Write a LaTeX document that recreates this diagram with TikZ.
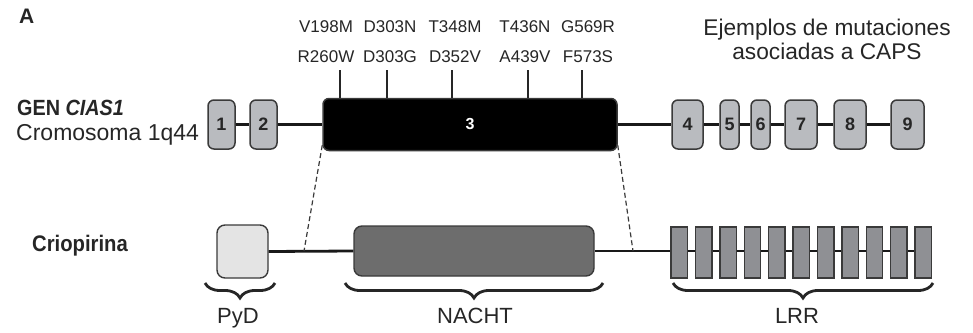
\documentclass[tikz,border=0pt]{standalone}
\usepackage{fontspec}
\setmainfont{Liberation Sans}
\newfontfamily\narrowfont[FakeStretch=0.9]{Liberation Sans}
\usetikzlibrary{decorations.pathreplacing}

\definecolor{exongray}{HTML}{B9BBBF}
\definecolor{edgegray}{HTML}{3A3A3A}
\definecolor{pydgray}{HTML}{E4E4E4}
\definecolor{nachtgray}{HTML}{6D6D6D}
\definecolor{lrrgray}{HTML}{8F9094}
\definecolor{inkgray}{HTML}{262626}

\tikzset{
  exon/.style={draw=edgegray,line width=1.5pt,fill=exongray,rounded corners=6pt,
    minimum height=49pt,inner sep=0pt,text=inkgray,
    font=\fontsize{18}{18}\selectfont\bfseries},
  domainbox/.style={draw=edgegray,line width=1.4pt,rounded corners=8pt,inner sep=0pt},
  lrrbox/.style={draw=edgegray,line width=1.4pt,fill=lrrgray,
    minimum width=16.5pt,minimum height=51pt,inner sep=0pt},
  mut/.style={anchor=base,inner sep=0pt,text=inkgray,font=\fontsize{17}{17}\selectfont},
  backbone/.style={line width=2.8pt,black!90},
  cut/.style={line width=1.2pt,edgegray,dash pattern=on 5pt off 3pt},
  bracket/.style={decorate,decoration={brace,amplitude=15pt,mirror},line width=2.8pt,inkgray},
  domlabel/.style={anchor=base,inner sep=0pt,text=inkgray,font=\fontsize{22}{22}\selectfont},
}

\begin{document}
\begin{tikzpicture}[x=1pt,y=-1pt]
  \useasboundingbox (0,0) rectangle (973,332);

  % left titles
  \node[anchor=north west,inner sep=0pt,text=inkgray,font=\fontsize{21}{21}\selectfont\bfseries] (tagA) at (19,9) {A};
  \node[anchor=base west,inner sep=0pt,text=inkgray,font=\fontsize{22}{22}\selectfont\narrowfont\bfseries] (gen) at (17,115) {GEN \textit{CIAS1}};
  \node[anchor=base west,inner sep=0pt,text=inkgray,font=\fontsize{23}{23}\selectfont] (chrom) at (16,140) {Cromosoma 1q44};
  \node[anchor=base west,inner sep=0pt,text=inkgray,font=\fontsize{22.5}{22.5}\selectfont\narrowfont\bfseries] (prot) at (32,251) {Criopirina};

  % exons of the gene
  \foreach \n/\cx/\w in {1/221.5/27,2/263.5/27,4/687.5/31,5/729.5/19,6/760.5/19,7/801/32,8/850/32,9/907.5/33}
    \node[exon,minimum width=\w pt] (e\n) at (\cx,124.5) {\n};
  \node[exon,fill=black,text=white,minimum width=294pt,minimum height=52pt,
    font=\fontsize{16}{16}\selectfont\bfseries] (e3) at (470,124.5) {3};
  \foreach \a/\b in {1/2,2/3,3/4,4/5,5/6,6/7,7/8,8/9}
    \draw[backbone] (e\a.east) -- (e\b.west);

  % mutations
  \foreach \i/\tx in {1/340,2/387,3/452,4/528,5/582}{
    \coordinate (m\i) at (\tx,70);
    \draw[line width=1.1pt,inkgray] (m\i) -- (m\i |- e3.north);
  }
  \foreach \cx/\top/\bot in {326/V198M/R260W,390/D303N/D303G,455/T348M/D352V,525/T436N/A439V,588/G569R/F573S}{
    \node[mut] at (\cx,32) {\top};
    \node[mut] at (\cx,62) {\bot};
  }
  \node[anchor=north,inner sep=0pt,align=center,text=inkgray,
    font=\fontsize{22.7}{24}\selectfont] (note) at (827,19) {Ejemplos de mutaciones\\asociadas a CAPS};

  % protein domains
  \node[domainbox,fill=pydgray,minimum width=51pt,minimum height=53pt] (pyd) at (242.5,251.5) {};
  \node[domainbox,fill=nachtgray,minimum width=240pt,minimum height=50pt] (nacht) at (474,251) {};
  \foreach \i in {1,...,11}
    \node[lrrbox] (lrr\i) at ({679.25+24.4*(\i-1)},252.5) {};
  \draw[backbone] (pyd.east) -- (nacht.west);
  \draw[backbone] (nacht.east) -- (lrr1.west |- nacht.east);
  \foreach \a [evaluate=\a as \b using int(\a+1)] in {1,...,10}
    \draw[backbone] (lrr\a.east |- nacht.east) -- (lrr\b.west |- nacht.east);

  % exon 3 maps onto the central region
  \coordinate (cutL) at (304,251);
  \coordinate (cutR) at (633,251);
  \draw[cut] ([yshift=6pt]e3.south west) -- (cutL);
  \draw[cut] ([yshift=6pt]e3.south east) -- (cutR);

  % braces
  \draw[bracket] (205,283) -- (275,283);
  \draw[bracket] (345,283) -- (603,283);
  \draw[bracket] (673,283) -- (933,283);
  \node[domlabel] (pydlab) at (238,323) {PyD};
  \node[domlabel] (nachtlab) at (475,323) {NACHT};
  \node[domlabel] (lrrlab) at (797,323) {LRR};
\end{tikzpicture}
\end{document}
